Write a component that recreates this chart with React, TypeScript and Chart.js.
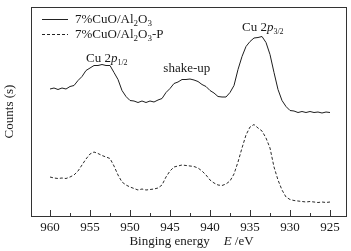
import React, { useEffect, useRef } from "react";
import { Chart, registerables } from "chart.js";

Chart.register(...registerables);

// Binding energy (eV)
const energies = [
  960, 959.5, 959, 958.5, 958, 957.5, 957, 956.5, 956, 955.5,
  955, 954.5, 954, 953.5, 953, 952.5, 952, 951.5, 951, 950.5,
  950, 949.5, 949, 948.5, 948, 947.5, 947, 946.5, 946, 945.5,
  945, 944.5, 944, 943.5, 943, 942.5, 942, 941.5, 941, 940.5,
  940, 939.5, 939, 938.5, 938, 937.5, 937, 936.5, 936, 935.5,
  935, 934.5, 934, 933.5, 933, 932.5, 932, 931.5, 931, 930.5,
  930, 929.5, 929, 928.5, 928, 927.5, 927, 926.5, 926, 925.5,
  925,
];

// Counts (arbitrary units) for 7%CuO/Al2O3
const countsFresh = [
  127, 128, 126.5, 128, 127, 129.5, 130.5, 135.5, 139.5, 145.5,
  148, 150.5, 150.5, 151.5, 150.5, 150.5, 143.5, 136.5, 125.5, 119.5,
  115.5, 115, 113.5, 115, 113.5, 115, 114, 116, 117.5, 123.5,
  127.5, 132.5, 134, 136.5, 136.5, 137, 136, 134.5, 131.5, 129.5,
  125.5, 123, 119.5, 119, 119, 123.5, 130.5, 146.5, 159.5, 169.5,
  174.5, 178, 178.5, 179.5, 173.5, 161.5, 143.5, 126.5, 115.5, 109.5,
  105.5, 105, 103.5, 104.5, 103.5, 104.5, 103.5, 104, 103, 104,
  103.5,
];

// Counts (arbitrary units) for 7%CuO/Al2O3-P
const countsP = [
  39, 38, 37.5, 38, 37.5, 39, 41, 45, 51, 57,
  62, 64, 62.5, 60.5, 59, 57.5, 50, 41, 34, 31,
  29, 27.5, 26, 27, 26, 26.5, 27, 28, 31, 39,
  45, 49, 50, 51, 50.5, 50, 49.5, 48, 45, 41,
  36, 33, 31, 30.5, 32, 35, 42, 54, 68, 81,
  89, 91.5, 88, 85, 78, 68, 49, 36, 26, 19,
  16.5, 15.5, 15, 14.5, 14, 14.5, 14, 13.5, 14, 13.5,
  14,
];

const seriesNames = ["7%CuO/Al2O3", "7%CuO/Al2O3-P"];
const majorTicks = [960, 955, 950, 945, 940, 935, 930, 925];
const minorTicks = [957.5, 952.5, 947.5, 942.5, 937.5, 932.5, 927.5];
const xMin = 923;
const xMax = 962.375;
const yMin = 0;
const yMax = 209;

// Peak annotations: [energy, counts at text baseline]
const peakLabelEnergies = [952.9, 942.9, 933.4];
const peakLabelCounts = [154, 144, 185];

const FONT = '"Liberation Serif", "Times New Roman", serif';
const INK = "#1a1a1a";

type Seg = { t: string; italic?: boolean; sub?: boolean; size?: number; gap?: number };

function segFont(s: Seg) {
  const size = s.size ?? (s.sub ? 9 : 13);
  return `${s.italic ? "italic " : ""}${size}px ${FONT}`;
}

function drawRich(ctx: CanvasRenderingContext2D, segs: Seg[], x: number, y: number, align: "left" | "center") {
  let w = 0;
  for (const s of segs) {
    ctx.font = segFont(s);
    w += ctx.measureText(s.t).width + (s.gap ?? 0);
  }
  let cx = align === "center" ? x - w / 2 : x;
  ctx.textAlign = "left";
  ctx.textBaseline = "alphabetic";
  for (const s of segs) {
    ctx.font = segFont(s);
    ctx.fillText(s.t, cx, y + (s.sub ? 3 : 0));
    cx += ctx.measureText(s.t).width + (s.gap ?? 0);
  }
}

const peakLabelSegs: Seg[][] = [
  [{ t: "Cu 2" }, { t: "p", italic: true }, { t: "1/2", sub: true, size: 8 }],
  [{ t: "shake-up" }],
  [{ t: "Cu 2" }, { t: "p", italic: true }, { t: "3/2", sub: true, size: 8 }],
];

const legendSegs: Seg[][] = [
  [{ t: "7%CuO/Al" }, { t: "2", sub: true }, { t: "O" }, { t: "3", sub: true }],
  [{ t: "7%CuO/Al" }, { t: "2", sub: true }, { t: "O" }, { t: "3", sub: true }, { t: "-P" }],
];

const decorPlugin = {
  id: "decor",
  afterDraw(chart: any) {
    const ctx: CanvasRenderingContext2D = chart.ctx;
    const { left, right, top, bottom } = chart.chartArea;
    const xs = chart.scales.x;
    const ys = chart.scales.y;
    ctx.save();
    // frame
    ctx.strokeStyle = "#333";
    ctx.lineWidth = 1;
    ctx.setLineDash([]);
    ctx.strokeRect(left + 0.5, top + 0.5, right - left, bottom - top);
    // inward ticks
    ctx.beginPath();
    for (const v of majorTicks) {
      const px = Math.round(xs.getPixelForValue(v)) + 0.5;
      ctx.moveTo(px, bottom);
      ctx.lineTo(px, bottom - 6);
    }
    for (const v of minorTicks) {
      const px = Math.round(xs.getPixelForValue(v)) + 0.5;
      ctx.moveTo(px, bottom);
      ctx.lineTo(px, bottom - 3);
    }
    ctx.stroke();

    ctx.fillStyle = INK;
    // peak labels
    peakLabelSegs.forEach((segs, i) => {
      const px = xs.getPixelForValue(peakLabelEnergies[i]);
      const py = ys.getPixelForValue(peakLabelCounts[i]);
      drawRich(ctx, segs, px, py, "center");
    });

    // legend
    const rows = [top + 12, top + 27];
    rows.forEach((ry, i) => {
      ctx.beginPath();
      ctx.strokeStyle = "#222";
      ctx.setLineDash(i === 0 ? [] : [3, 2]);
      ctx.moveTo(left + 11, ry + 0.5);
      ctx.lineTo(left + 37, ry + 0.5);
      ctx.stroke();
      ctx.setLineDash([]);
      drawRich(ctx, legendSegs[i], left + 44, ry + 4, "left");
    });

    // x axis title
    drawRich(
      ctx,
      [{ t: "Binging energy", gap: 14 }, { t: "E", italic: true }, { t: " /eV" }],
      (left + right) / 2 + 3,
      245,
      "center"
    );
    ctx.restore();
  },
};

export default function App() {
  const ref = useRef<HTMLCanvasElement | null>(null);

  useEffect(() => {
    if (!ref.current) return;
    const chart = new Chart(ref.current, {
      type: "line",
      data: {
        datasets: [
          {
            label: seriesNames[0],
            data: energies.map((e, i) => ({ x: e, y: countsFresh[i] })),
            borderColor: "#1e1e1e",
            borderWidth: 1,
            pointRadius: 0,
            tension: 0,
            fill: false,
          },
          {
            label: seriesNames[1],
            data: energies.map((e, i) => ({ x: e, y: countsP[i] })),
            borderColor: "#2a2a2a",
            borderWidth: 1,
            borderDash: [3, 2],
            pointRadius: 0,
            tension: 0,
            fill: false,
          },
        ],
      },
      options: {
        animation: false,
        responsive: false,
        events: [],
        layout: { padding: { top: 7, right: 5, left: 0, bottom: 0 } },
        plugins: { legend: { display: false }, tooltip: { enabled: false } },
        scales: {
          x: {
            type: "linear",
            reverse: true,
            min: xMin,
            max: xMax,
            grid: { display: false, drawTicks: false },
            border: { display: false },
            afterBuildTicks: (s: any) => {
              s.ticks = majorTicks.map((v) => ({ value: v }));
            },
            afterFit: (s: any) => {
              s.height = 35;
            },
            ticks: {
              color: INK,
              padding: 4,
              maxRotation: 0,
              autoSkip: false,
              font: { family: FONT, size: 13 },
              callback: (v: any) => String(v),
            },
          },
          y: {
            type: "linear",
            min: yMin,
            max: yMax,
            grid: { display: false, drawTicks: false },
            border: { display: false },
            ticks: { display: false },
            afterFit: (s: any) => {
              s.width = 31;
            },
            title: {
              display: true,
              text: "Counts (s)",
              color: INK,
              font: { family: FONT, size: 13 },
              padding: { top: 2, bottom: 0 },
            },
          },
        },
      },
      plugins: [decorPlugin],
    });
    return () => chart.destroy();
  }, []);

  return (
    <div style={{ position: "fixed", left: 0, top: 0, width: 351, height: 251, background: "#fff" }}>
      <canvas ref={ref} width={351} height={251} />
    </div>
  );
}
